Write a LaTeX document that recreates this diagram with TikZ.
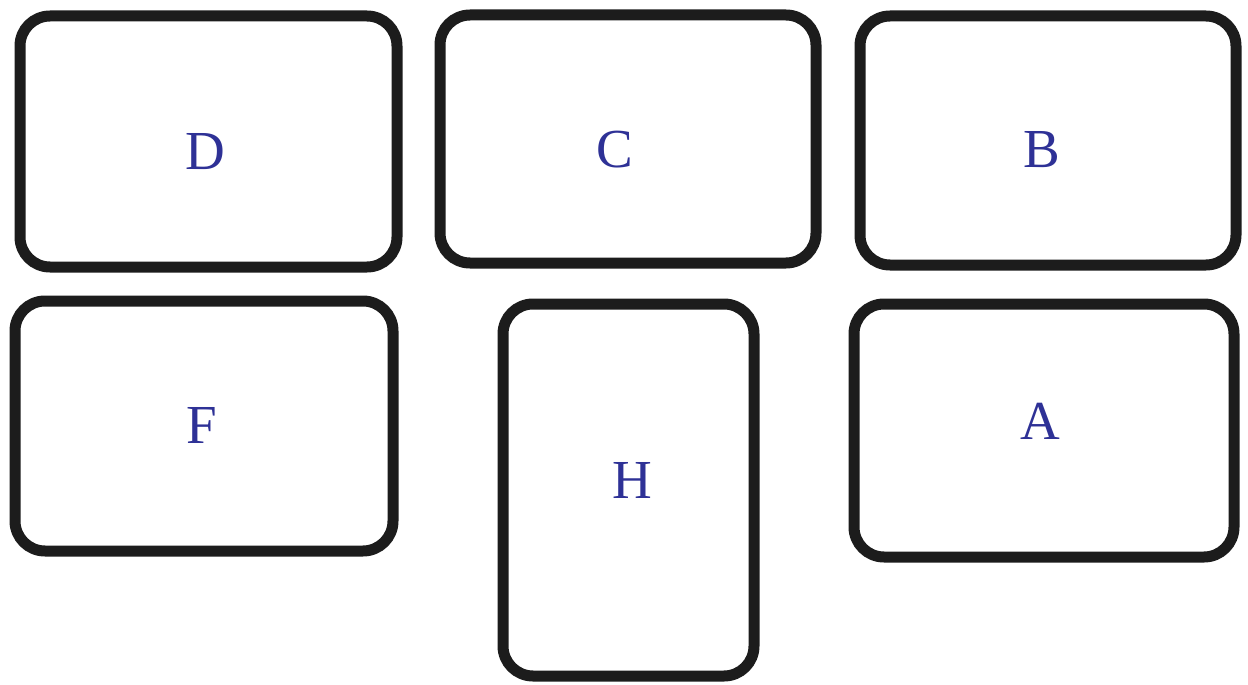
\documentclass[tikz,border=0pt]{standalone}
\usepackage{fontspec}
\setmainfont{Liberation Serif}
\definecolor{lblue}{RGB}{46,49,150}
\definecolor{edge}{RGB}{28,28,28}
\begin{document}
\begin{tikzpicture}[x=1pt,y=-1pt,
  card/.style={draw=edge,line width=11pt,rounded corners=30pt,inner sep=0pt,outer sep=0pt,fill=none},
  lbl/.style={text=lblue,font=\fontsize{55}{60}\selectfont,inner sep=0pt}]
\useasboundingbox (0,0) rectangle (1248,685);
\node[card,minimum width=377pt,minimum height=251pt] (bD) at (208.5,141.5) {};
\node[card,minimum width=376pt,minimum height=248pt] (bC) at (628,139) {};
\node[card,minimum width=376pt,minimum height=249pt] (bB) at (1048,140.5) {};
\node[card,minimum width=378pt,minimum height=250pt] (bF) at (204,426) {};
\node[card,minimum width=251pt,minimum height=372pt] (bH) at (628.5,490) {};
\node[card,minimum width=380pt,minimum height=253pt] (bA) at (1044,430.5) {};
\node[lbl] (tD) at (205,152) {D};
\node[lbl] (tC) at (615,150) {C};
\node[lbl] (tB) at (1042,150) {B};
\node[lbl] (tF) at (202,425) {F};
\node[lbl] (tH) at (632,480) {H};
\node[lbl] (tA) at (1040,421) {A};
\end{tikzpicture}
\end{document}
